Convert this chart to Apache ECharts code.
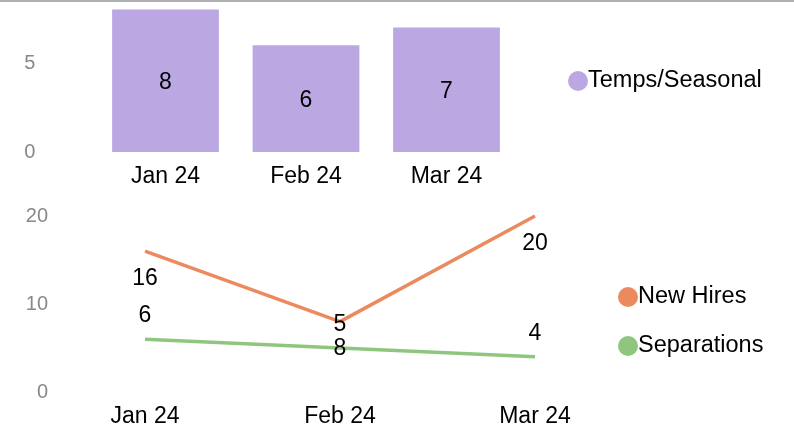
<!DOCTYPE html>
<html>
<head>
<meta charset="utf-8">
<script src="https://cdn.jsdelivr.net/npm/echarts@6/dist/echarts.min.js"></script>
<style>
html,body{margin:0;padding:0;background:#fff;}
#chart{width:794px;height:429px;}
</style>
</head>
<body>
<div id="chart"></div>
<script>
var categories = ['Jan 24', 'Feb 24', 'Mar 24'];
var tempsSeasonal = [8, 6, 7];
var newHires = [16, 8, 20];
var separations = [6, 5, 4];

var FONT = "'Liberation Sans', Arial, sans-serif";
var chart = echarts.init(document.getElementById('chart'));
chart.setOption({
  animation: false,
  textStyle: { fontFamily: FONT },
  graphic: [{
    type: 'rect', shape: { x: 0, y: 0, width: 794, height: 2 },
    style: { fill: '#b0b0b0' }, silent: true
  }],
  legend: [{
    data: ['Temps/Seasonal'],
    left: 563, top: 64, orient: 'vertical',
    icon: 'circle', itemWidth: 20, itemHeight: 20, itemGap: 6,
    textStyle: { fontSize: 23.5, color: '#000', fontFamily: FONT, padding: [0, 0, 0, -5] }
  }, {
    data: ['New Hires', 'Separations'],
    left: 613, top: 280, orient: 'vertical',
    icon: 'circle', itemWidth: 20, itemHeight: 20, itemGap: 25,
    textStyle: { fontSize: 23.5, color: '#000', fontFamily: FONT, padding: [0, 0, 0, -5] }
  }],
  grid: [
    { left: 95.25, width: 421.5, top: 9.6, height: 142.4, containLabel: false },
    { left: 145, width: 390, top: 216, height: 176, containLabel: false }
  ],
  xAxis: [{
    gridIndex: 0, type: 'category', data: categories,
    axisLine: { show: false }, axisTick: { show: false },
    axisLabel: { fontSize: 23, color: '#000', margin: 13, fontFamily: FONT }
  }, {
    gridIndex: 1, type: 'category', data: categories, boundaryGap: false,
    axisLine: { show: false }, axisTick: { show: false },
    axisLabel: { fontSize: 23, color: '#000', margin: 13, fontFamily: FONT }
  }],
  yAxis: [{
    gridIndex: 0, type: 'value', min: 0, max: 8, interval: 5,
    splitLine: { show: false }, axisLine: { show: false }, axisTick: { show: false },
    axisLabel: { fontSize: 20, color: '#888', margin: 60, showMaxLabel: false, fontFamily: FONT }
  }, {
    gridIndex: 1, type: 'value', min: 0, max: 20, interval: 10,
    splitLine: { show: false }, axisLine: { show: false }, axisTick: { show: false },
    axisLabel: { fontSize: 20, color: '#888', margin: 97, fontFamily: FONT }
  }],
  series: [{
    name: 'Temps/Seasonal', type: 'bar', xAxisIndex: 0, yAxisIndex: 0,
    data: tempsSeasonal, barCategoryGap: '24%',
    itemStyle: { color: '#bba8e3' },
    label: { show: true, position: 'inside', offset: [0, 2], fontSize: 23, color: '#000', fontFamily: FONT }
  }, {
    name: 'New Hires', type: 'line', xAxisIndex: 1, yAxisIndex: 1,
    data: newHires, showSymbol: true, symbol: 'circle', symbolSize: 0,
    itemStyle: { color: '#ec8a5f' }, lineStyle: { width: 3.5, color: '#ec8a5f' },
    label: { show: true, position: 'bottom', distance: 16, fontSize: 23, color: '#000', fontFamily: FONT }
  }, {
    name: 'Separations', type: 'line', xAxisIndex: 1, yAxisIndex: 1,
    data: separations, showSymbol: true, symbol: 'circle', symbolSize: 0,
    itemStyle: { color: '#8fc67f' }, lineStyle: { width: 3.5, color: '#8fc67f' },
    label: { show: true, position: 'top', distance: 12, fontSize: 23, color: '#000', fontFamily: FONT }
  }]
});
</script>
</body>
</html>
